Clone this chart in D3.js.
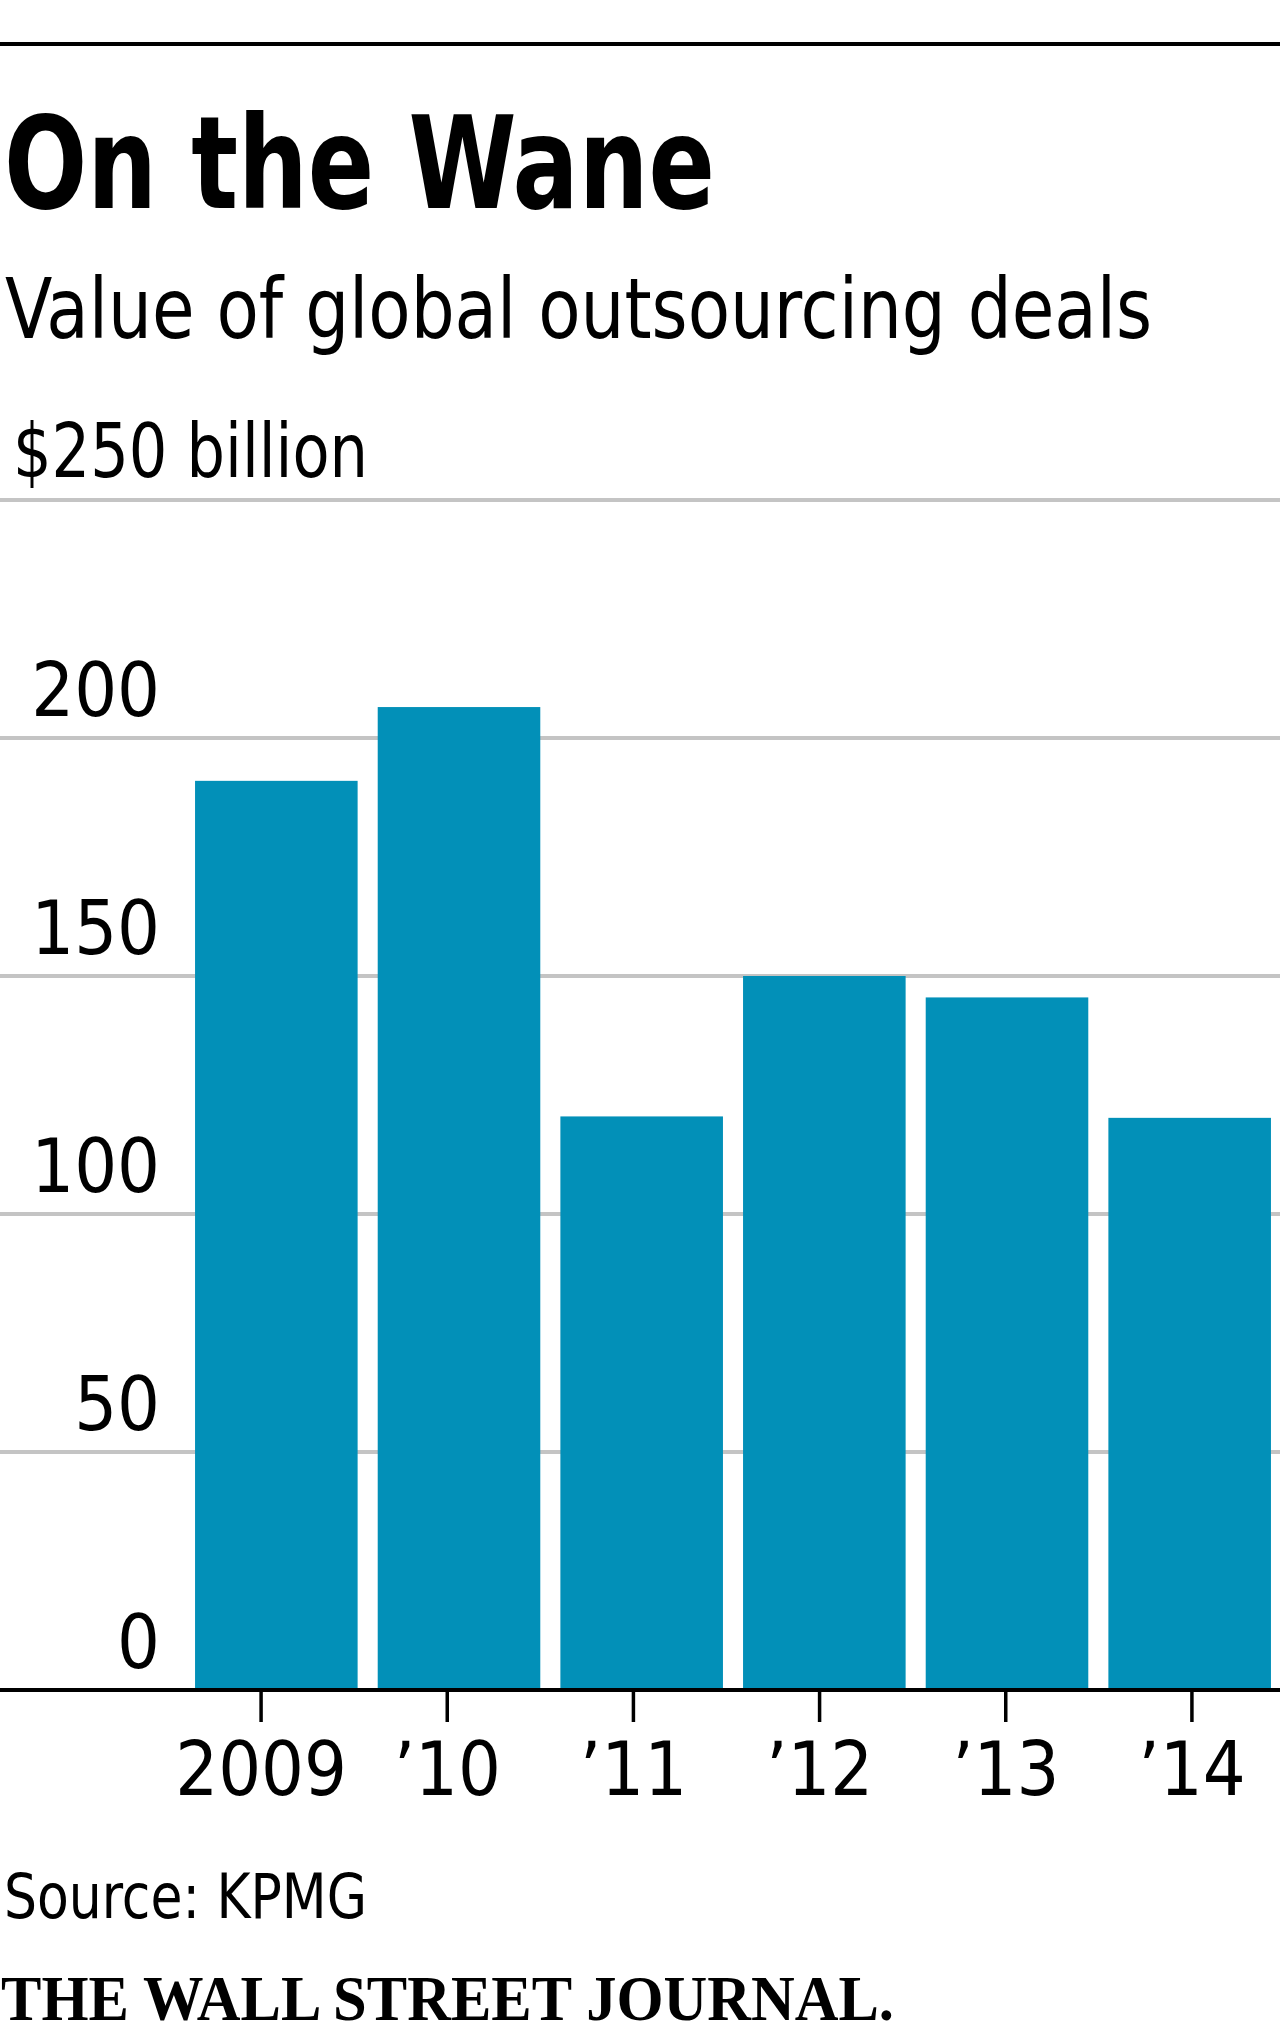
<!DOCTYPE html>
<html>
<head>
<meta charset="utf-8">
<script src="https://cdn.jsdelivr.net/npm/d3@7"></script>
<style>
  html, body { margin: 0; padding: 0; background: #fff; }
  svg { display: block; }
  .sans { font-family: 'DejaVu Sans Condensed', 'DejaVu Sans', sans-serif; font-stretch: condensed; }
</style>
</head>
<body>
<svg id="chart" width="1280" height="2036"></svg>
<script>
// ---- Data ----
const years = ["2009", "2010", "2011", "2012", "2013", "2014"];
const yearLabels = ["2009", "\u201910", "\u201911", "\u201912", "\u201913", "\u201914"];
const values = [191, 206.5, 120.5, 150, 145.5, 120.2];
const yTicks = [0, 50, 100, 150, 200, 250];

const title = "On the Wane";
const subtitle = "Value of global outsourcing deals";
const unitLabel = "$250 billion";
const source = "Source: KPMG";
const brand = "THE WALL STREET JOURNAL.";

// ---- Layout ----
const W = 1280;
const svg = d3.select("#chart");

const y = d3.scaleLinear().domain([0, 250]).range([1690, 500]);
const x = d3.scaleBand().domain(years).range([185, 1281]).paddingInner(0.11).paddingOuter(0.055);
const xTick = d3.scaleBand().domain(years).range([168, 1285]).padding(0);

// top rule
svg.append("line").attr("x1", 0).attr("x2", W).attr("y1", 44).attr("y2", 44)
  .attr("stroke", "#000").attr("stroke-width", 4);

// title
svg.append("text").attr("class", "sans").attr("x", 4).attr("y", 208)
  .attr("font-size", 128).attr("font-weight", "bold").attr("fill", "#000")
  .attr("textLength", 711).attr("lengthAdjust", "spacingAndGlyphs")
  .text(title);

// subtitle
svg.append("text").attr("class", "sans").attr("x", 5).attr("y", 338)
  .attr("font-size", 84).attr("fill", "#000")
  .attr("textLength", 1147).attr("lengthAdjust", "spacingAndGlyphs")
  .text(subtitle);

// gridlines (behind bars)
const gridVals = yTicks.filter(v => v > 0);
svg.append("g").selectAll("line").data(gridVals).join("line")
  .attr("x1", 0).attr("x2", W)
  .attr("y1", d => y(d)).attr("y2", d => y(d))
  .attr("stroke", "#c4c4c4").attr("stroke-width", 4);

// unit label above top gridline
svg.append("text").attr("class", "sans").attr("x", 13).attr("y", 477)
  .attr("font-size", 75).attr("fill", "#000")
  .attr("textLength", 355).attr("lengthAdjust", "spacingAndGlyphs")
  .text(unitLabel);

// y labels (excluding 250, which is the unit label)
const yAxis = d3.axisLeft(y).tickValues(yTicks.filter(v => v < 250)).tickSize(0).tickPadding(0)
  .tickFormat(d3.format("d"));
const gy = svg.append("g").attr("transform", "translate(160,0)").call(yAxis);
gy.select(".domain").remove();
gy.selectAll("text")
  .attr("class", "sans")
  .attr("font-size", 75).attr("fill", "#000")
  .attr("font-family", "'DejaVu Sans Condensed', 'DejaVu Sans', sans-serif")
  .attr("dy", null).attr("y", -23)
  .attr("text-anchor", "end");

// bars
svg.append("g").selectAll("rect").data(values).join("rect")
  .attr("x", (d, i) => x(years[i]))
  .attr("width", x.bandwidth())
  .attr("y", d => y(d))
  .attr("height", d => y(0) - y(d))
  .attr("fill", "#0290b8");

// x axis baseline
svg.append("line").attr("x1", 0).attr("x2", W).attr("y1", y(0)).attr("y2", y(0))
  .attr("stroke", "#000").attr("stroke-width", 4);

// x axis ticks and labels
const xAxis = d3.axisBottom(xTick).tickSize(31).tickPadding(0)
  .tickFormat((d, i) => yearLabels[i]);
const gx = svg.append("g").attr("transform", `translate(0,${y(0) + 1})`).call(xAxis);
gx.select(".domain").remove();
gx.selectAll(".tick line").attr("stroke", "#000").attr("stroke-width", 3.5);
gx.selectAll(".tick text")
  .attr("font-family", "'DejaVu Sans Condensed', 'DejaVu Sans', sans-serif")
  .attr("font-stretch", "condensed")
  .attr("font-size", 75).attr("fill", "#000")
  .attr("dy", null).attr("y", 104);

// source
svg.append("text").attr("class", "sans").attr("x", 4).attr("y", 1918)
  .attr("font-size", 63).attr("fill", "#000")
  .attr("textLength", 363).attr("lengthAdjust", "spacingAndGlyphs")
  .text(source);

// brand
svg.append("text").attr("x", 1).attr("y", 2020)
  .attr("font-family", "'Liberation Serif', 'DejaVu Serif', serif")
  .attr("font-size", 63).attr("font-weight", "bold").attr("fill", "#000")
  .attr("textLength", 893).attr("lengthAdjust", "spacingAndGlyphs")
  .text(brand);
</script>
</body>
</html>
